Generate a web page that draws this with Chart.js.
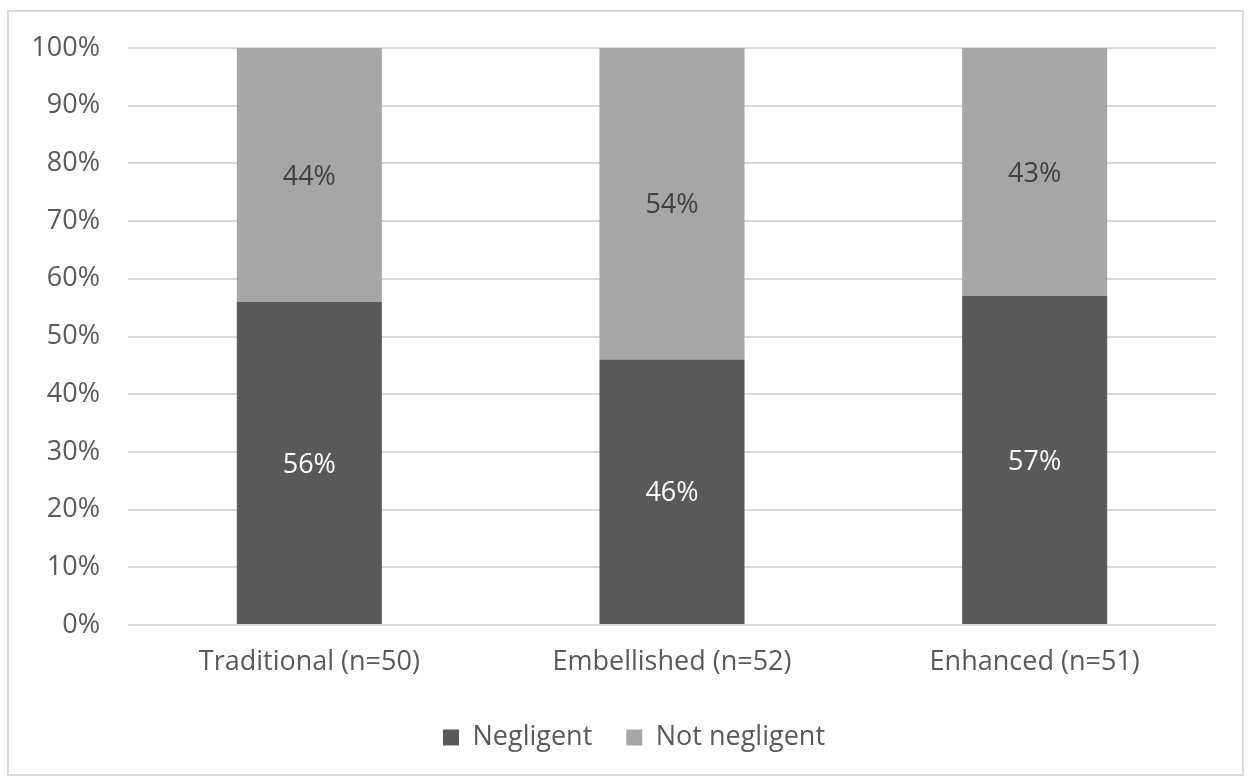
<!DOCTYPE html>
<html>
<head>
<meta charset="utf-8">
<script src="https://cdn.jsdelivr.net/npm/chart.js@4/dist/chart.umd.min.js"></script>
<style>
  html, body { margin: 0; padding: 0; background: #ffffff; }
  #wrap { position: relative; width: 1252px; height: 779px; }
</style>
</head>
<body>
<div id="wrap"><canvas id="chart" width="1252" height="779"></canvas></div>
<script>
// Study groups and share of verdicts (percent)
const categories = ['Traditional (n=50)', 'Embellished (n=52)', 'Enhanced (n=51)'];
const negligent = [56, 46, 57];
const notNegligent = [44, 54, 43];
const seriesNames = ['Negligent', 'Not negligent'];
const yTicks = [0, 10, 20, 30, 40, 50, 60, 70, 80, 90, 100];

const FONT = "'Open Sans', 'Noto Sans', sans-serif";
const FONT_SIZE = 27;
const TEXT = '#595959';

// Outer frame and white background; legend nudged to sit centred under the plot
const framePlugin = {
  id: 'frame',
  beforeDraw(chart) {
    const ctx = chart.ctx;
    ctx.save();
    ctx.fillStyle = '#ffffff';
    ctx.fillRect(0, 0, chart.width, chart.height);
    ctx.strokeStyle = '#d9d9d9';
    ctx.lineWidth = 2;
    ctx.strokeRect(8, 11, 1235, 764);
    ctx.restore();
    const lg = chart.legend;
    if (lg && !lg._shifted) {
      lg.left += 26;
      lg.right += 26;
      lg._shifted = true;
    }
  }
};

// Percent labels centred in each bar segment
const segmentLabels = {
  id: 'segmentLabels',
  afterDatasetsDraw(chart) {
    const ctx = chart.ctx;
    ctx.save();
    ctx.font = FONT_SIZE + 'px ' + FONT;
    ctx.textAlign = 'center';
    ctx.textBaseline = 'middle';
    chart.data.datasets.forEach((ds, i) => {
      const meta = chart.getDatasetMeta(i);
      meta.data.forEach((bar, j) => {
        const v = ds.data[j];
        const yc = (bar.y + bar.base) / 2;
        ctx.fillStyle = i === 0 ? '#ffffff' : '#404040';
        ctx.fillText(v + '%', bar.x, yc + 2);
      });
    });
    ctx.restore();
  }
};

new Chart(document.getElementById('chart'), {
  type: 'bar',
  data: {
    labels: categories,
    datasets: [
      { label: seriesNames[0], data: negligent, backgroundColor: '#595959', categoryPercentage: 1, barPercentage: 0.4 },
      { label: seriesNames[1], data: notNegligent, backgroundColor: '#a6a6a6', categoryPercentage: 1, barPercentage: 0.4 }
    ]
  },
  options: {
    responsive: false,
    animation: false,
    devicePixelRatio: 1,
    layout: { padding: { left: 0, right: 36, top: 48, bottom: 18 } },
    plugins: {
      tooltip: { enabled: false },
      legend: {
        position: 'bottom',
        labels: {
          boxWidth: 16,
          boxHeight: 16,
          padding: 34,
          color: TEXT,
          font: { family: FONT, size: FONT_SIZE }
        }
      }
    },
    scales: {
      x: {
        stacked: true,
        grid: { display: false, drawTicks: false },
        border: { display: false },
        ticks: { color: TEXT, font: { family: FONT, size: FONT_SIZE }, padding: 21 },
        afterFit(scale) { scale.height = 65; }
      },
      y: {
        stacked: true,
        min: 0,
        max: 100,
        afterBuildTicks(scale) { scale.ticks = yTicks.map(v => ({ value: v })); },
        grid: { color: '#d9d9d9', lineWidth: 2, drawTicks: false },
        border: { display: false },
        ticks: {
          color: TEXT,
          font: { family: FONT, size: FONT_SIZE },
          padding: 28,
          callback: v => v + '%'
        },
        afterFit(scale) { scale.width = 128; }
      }
    }
  },
  plugins: [framePlugin, segmentLabels]
});
</script>
</body>
</html>
